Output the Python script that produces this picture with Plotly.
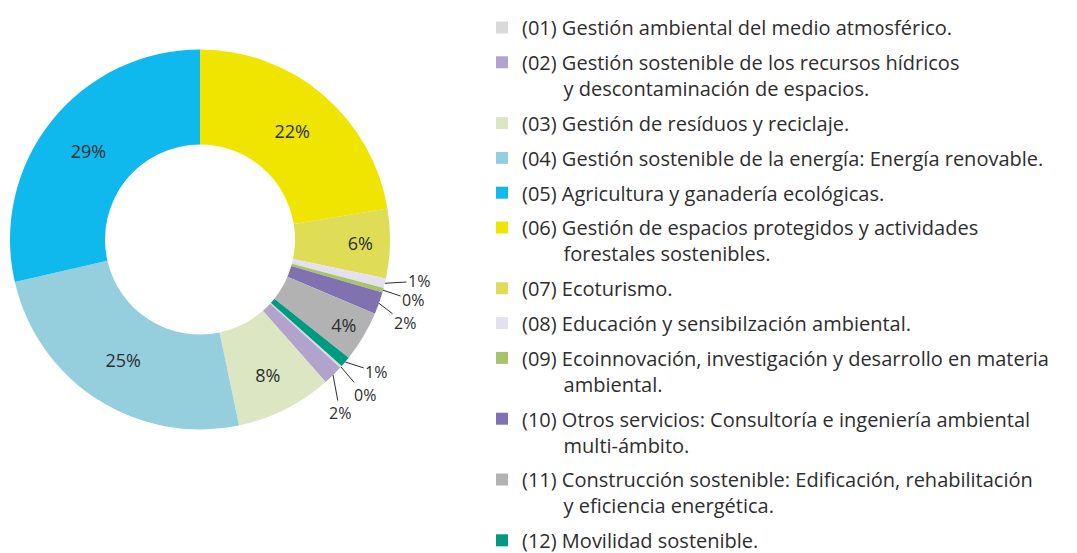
import math
import plotly.graph_objects as go

# ---------------- data ----------------
categories = [
    "(01) Gestión ambiental del medio atmosférico.",
    "(02) Gestión sostenible de los recursos hídricos<br>y descontaminación de espacios.",
    "(03) Gestión de resíduos y reciclaje.",
    "(04) Gestión sostenible de la energía: Energía renovable.",
    "(05) Agricultura y ganadería ecológicas.",
    "(06) Gestión de espacios protegidos y actividades<br>forestales sostenibles.",
    "(07) Ecoturismo.",
    "(08) Educación y sensibilzación ambiental.",
    "(09) Ecoinnovación, investigación y desarrollo en materia<br>ambiental.",
    "(10) Otros servicios: Consultoría e ingeniería ambiental<br>multi-ámbito.",
    "(11) Construcción sostenible: Edificación, rehabilitación<br>y eficiencia energética.",
    "(12) Movilidad sostenible.",
]
shares = [0.2, 1.7, 8.2, 24.7, 28.6, 22.4, 5.9, 0.8, 0.4, 1.9, 4.3, 0.9]

# ---------------- style ----------------
colors = ["#d9d9d9", "#b1a3cb", "#dce6c3", "#95cfde", "#10b9ed", "#f0e500",
          "#dfdd55", "#e4e1ef", "#a8c46b", "#8071b0", "#b2b2b2", "#009a80"]
outside_idx = [0, 1, 7, 8, 9, 11]           # slices labelled outside with leader lines
label_offsets = {7: (34, -2), 8: (30, 10), 9: (26, 20), 11: (31, 10), 0: (24, 28), 1: (7, 38)}

W, H = 1077, 553
PAGE_OFFSET = 8                      # default <body> margin of the page
CX, CY, R = 200 - PAGE_OFFSET, 239.5 - PAGE_OFFSET, 190
FONT = "Open Sans"
TXT = "#2e2e2e"

total = sum(shares)
rotation = 360 * (1 - sum(shares[:5]) / total)   # slice (06) starts at 12 o'clock
pct_text = [f"{round(s)}%" for s in shares]
inside_text = ["" if i in outside_idx else t for i, t in enumerate(pct_text)]

fig = go.Figure()
fig.add_trace(go.Pie(
    labels=categories, values=shares, text=inside_text, textinfo="text",
    sort=False, direction="clockwise", rotation=rotation, hole=0.5,
    marker=dict(colors=colors, line=dict(width=0)),
    textposition="inside", insidetextorientation="horizontal",
    textfont=dict(family=FONT, size=18, color=TXT),
    domain=dict(x=[(CX - R) / W, (CX + R) / W], y=[1 - (CY + R) / H, 1 - (CY - R) / H]),
    showlegend=False, hoverinfo="label+percent",
))

# legend entries (one group each so that the gap between entries matches)
indent = "\u00a0" * 8
for i, (cat, col) in enumerate(zip(categories, colors)):
    fig.add_trace(go.Scatter(
        x=[None], y=[None], mode="markers", name=cat.replace("<br>", "<br>" + indent),
        marker=dict(symbol="square", size=12, color=col), legendgroup=f"g{i}",
        showlegend=True, hoverinfo="skip",
    ))

# outside labels with leader lines, positioned from the slice angles
cum = 0.0
for i, s in enumerate(shares):
    mid = math.radians(rotation + 360 * (cum + s / 2) / total)
    cum += s
    if i not in outside_idx:
        continue
    px = CX + R * math.sin(mid)
    py = CY - R * math.cos(mid)
    dx, dy = label_offsets[i]
    fig.add_annotation(
        x=px / W, y=1 - py / H, xref="paper", yref="paper",
        text=pct_text[i], showarrow=True, arrowhead=0, arrowwidth=1,
        arrowcolor=TXT, ax=dx, ay=dy, standoff=0,
        font=dict(family=FONT, size=16, color=TXT),
    )

fig.update_layout(
    width=W, height=H, margin=dict(l=0, r=0, t=0, b=0, autoexpand=False),
    paper_bgcolor="white", plot_bgcolor="white",
    xaxis=dict(visible=False, domain=[0.99, 1]), yaxis=dict(visible=False),
    legend=dict(x=474 / W, y=1, xanchor="left", yanchor="top",
                font=dict(family=FONT, size=20, color=TXT),
                tracegroupgap=5.8, valign="top", itemwidth=30,
                bgcolor="rgba(0,0,0,0)"),
    font=dict(family=FONT, color=TXT),
)

fig.write_html("out.html")
